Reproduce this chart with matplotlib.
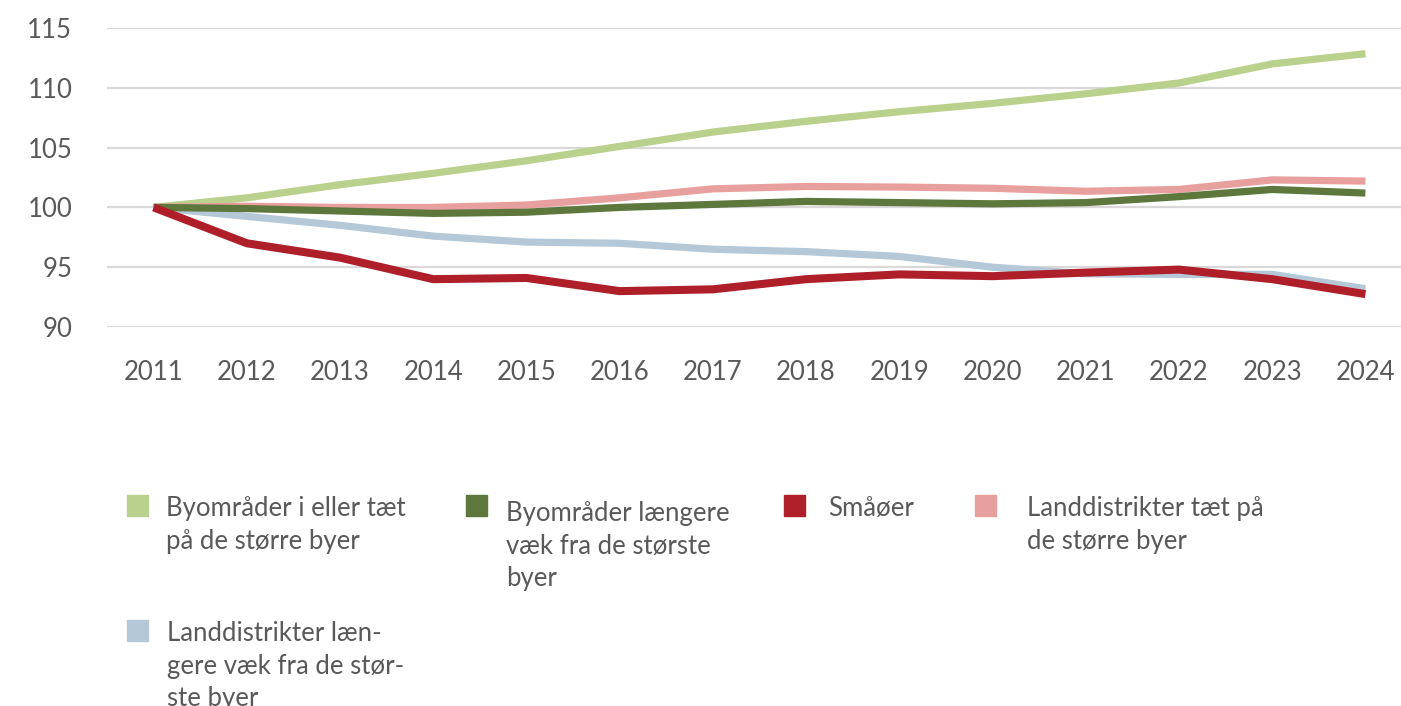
import matplotlib
matplotlib.use('Agg')
import matplotlib.pyplot as plt
from matplotlib.patches import Rectangle

plt.rcParams['font.family'] = ['Lato', 'DejaVu Sans']

years = [2011, 2012, 2013, 2014, 2015, 2016, 2017, 2018, 2019, 2020, 2021, 2022, 2023, 2024]

byer_naer = [100, 100.8, 101.9, 102.85, 103.9, 105.1, 106.3, 107.2, 108.0, 108.7, 109.5, 110.4, 112.0, 112.85]
byer_fjern = [100, 99.9, 99.7, 99.5, 99.6, 100.0, 100.25, 100.5, 100.4, 100.3, 100.4, 100.9, 101.5, 101.2]
smaaoer = [100, 97.0, 95.8, 94.0, 94.1, 93.0, 93.15, 94.0, 94.4, 94.25, 94.55, 94.8, 94.0, 92.75]
land_naer = [100, 100.1, 100.0, 100.0, 100.2, 100.8, 101.55, 101.75, 101.7, 101.6, 101.35, 101.5, 102.3, 102.2]
land_fjern = [100, 99.25, 98.5, 97.6, 97.1, 97.0, 96.5, 96.3, 95.9, 95.0, 94.45, 94.4, 94.4, 93.2]

labels = [
    'Byområder i eller tæt\npå de større byer',
    'Byområder længere\nvæk fra de største\nbyer',
    'Småøer',
    'Landdistrikter tæt på\nde større byer',
    'Landdistrikter læn-\ngere væk fra de stør-\nste byer',
]
colors = ['#bad08d', '#5e773c', '#ae1f2a', '#e8a09e', '#b4c8d8']
series = [byer_naer, byer_fjern, smaaoer, land_naer, land_fjern]
zorders = [2, 4, 5, 3, 3]
widths = [5.2, 5.2, 5.8, 5.2, 5.2]

W, H = 1401, 706
fig = plt.figure(figsize=(W / 100, H / 100), dpi=100)
ax = fig.add_axes([107 / W, 1 - 327 / H, (1412 - 107) / W, 299 / H])

for vals, c, z, lw in zip(series, colors, zorders, widths):
    ax.plot(years, vals, color=c, lw=lw, zorder=z, solid_capstyle='butt')

ax.set_xlim(2010.5, 2024.5)
ax.set_ylim(90, 115)
ax.set_yticks([90, 95, 100, 105, 110, 115])
ax.set_xticks(years)
ax.grid(axis='y', color='#d9d9d9', lw=1.6, zorder=0)
ax.set_axisbelow(True)
for s in ax.spines.values():
    s.set_visible(False)
ax.tick_params(axis='both', length=0, labelsize=18.5, labelcolor='#595959')
ax.tick_params(axis='y', pad=25)
ax.tick_params(axis='x', pad=24)

# legend laid out like the original (fixed columns)
# (swatch x, swatch top, text x offset, text y offset)
slots = [(127, 495, 39, 1), (466, 495, 40, 6), (784, 495, 44, 1),
         (975, 495, 52, 1), (127, 620, 40, 1)]
for (x0, top, dx, dy), lab, c in zip(slots, labels, colors):
    fig.patches.append(Rectangle((x0 / W, 1 - (top + 21) / H), 21 / W, 21 / H,
                                 transform=fig.transFigure, color=c))
    fig.text((x0 + dx) / W, 1 - (top + dy) / H, lab, fontsize=18.5, color='#595959',
             va='top', ha='left', linespacing=1.38)

fig.savefig('out.png', dpi=100)
